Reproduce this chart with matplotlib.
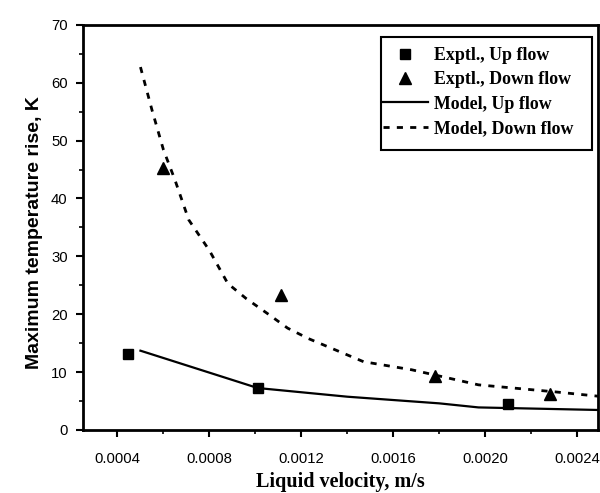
import numpy as np
import matplotlib
matplotlib.use("Agg")
import matplotlib.pyplot as plt
from matplotlib.patches import Rectangle
from matplotlib.ticker import MultipleLocator

# experimental points
up_x = [0.000445, 0.00101, 0.00210]
up_y = [13.1, 7.3, 4.5]
down_x = [0.000596, 0.00111, 0.00178, 0.00228]
down_y = [45.2, 23.3, 9.3, 6.3]

# model curves
mod_up_x = [0.0005, 0.00101, 0.0014, 0.0018, 0.00197, 0.0025]
mod_up_y = [13.7, 7.25, 5.75, 4.6, 3.9, 3.45]
mod_down_x = [0.0005, 0.00055, 0.0006, 0.00065, 0.00071, 0.0008, 0.00088,
              0.00096, 0.00106, 0.00114, 0.00123, 0.00147, 0.00168, 0.00197,
              0.0023, 0.0025]
mod_down_y = [62.7, 55.3, 48.4, 43.2, 36.3, 31.0, 25.3,
              22.7, 19.9, 17.6, 15.8, 11.8, 10.4, 7.8,
              6.6, 5.8]

serif = "Liberation Serif"
sans = "Liberation Sans"

fig = plt.figure(figsize=(6.0, 4.93), dpi=100)
ax = fig.add_axes([0.1383, 0.1278, 0.8584, 0.8219])

ax.plot(up_x, up_y, "s", color="black", ms=7.5, label="Exptl., Up flow")
ax.plot(down_x, down_y, "^", color="black", ms=8.5, label="Exptl., Down flow")
ax.plot(mod_up_x, mod_up_y, "-", color="black", lw=1.6, label="Model, Up flow")
ax.plot(mod_down_x, mod_down_y, color="black", lw=2, dashes=(2.2, 2.6),
        label="Model, Down flow")

ax.set_xlim(0.00025, 0.00249)
ax.set_ylim(0, 70)
ax.xaxis.set_minor_locator(MultipleLocator(0.0002))
ax.yaxis.set_major_locator(MultipleLocator(10))
ax.yaxis.set_minor_locator(MultipleLocator(5))
ax.set_xticks([0.0004, 0.0008, 0.0012, 0.0016, 0.0020, 0.0024])
ax.set_xticklabels(["0.0004", "0.0008", "0.0012", "0.0016", "0.0020", "0.0024"])

for s in ax.spines.values():
    s.set_linewidth(2)
ax.tick_params(which="major", direction="out", length=5, width=1.5,
               top=False, right=False, labelsize=10.7)
ax.tick_params(axis="x", which="major", pad=11)
ax.tick_params(axis="y", which="major", pad=6)
ax.tick_params(which="minor", direction="out", length=3, width=1.2,
               top=False, right=False)
for lab in ax.get_xticklabels() + ax.get_yticklabels():
    lab.set_fontfamily(sans)

ax.set_xlabel("Liquid velocity, m/s", fontfamily=serif, fontweight="bold",
              fontsize=14.5)
ax.set_ylabel("Maximum temperature rise, K", fontfamily=sans,
              fontweight="bold", fontsize=14)
ax.xaxis.set_label_coords(0.5, -0.104)
ax.yaxis.set_label_coords(-0.078, 0.488)

# legend: box drawn separately, entries hug its left edge as in the scan
leg = ax.legend(loc="upper left", bbox_to_anchor=(0.638, 0.905),
                bbox_transform=fig.transFigure, borderaxespad=0,
                prop={"family": serif, "weight": "bold", "size": 12.9},
                frameon=False, handlelength=2.5, handletextpad=0.33,
                labelspacing=0.41, borderpad=0)
fig.patches.append(Rectangle((0.635, 0.696), 0.352, 0.229,
                             transform=fig.transFigure, fill=False,
                             edgecolor="black", lw=1.5))

fig.savefig("out.png", dpi=100)
